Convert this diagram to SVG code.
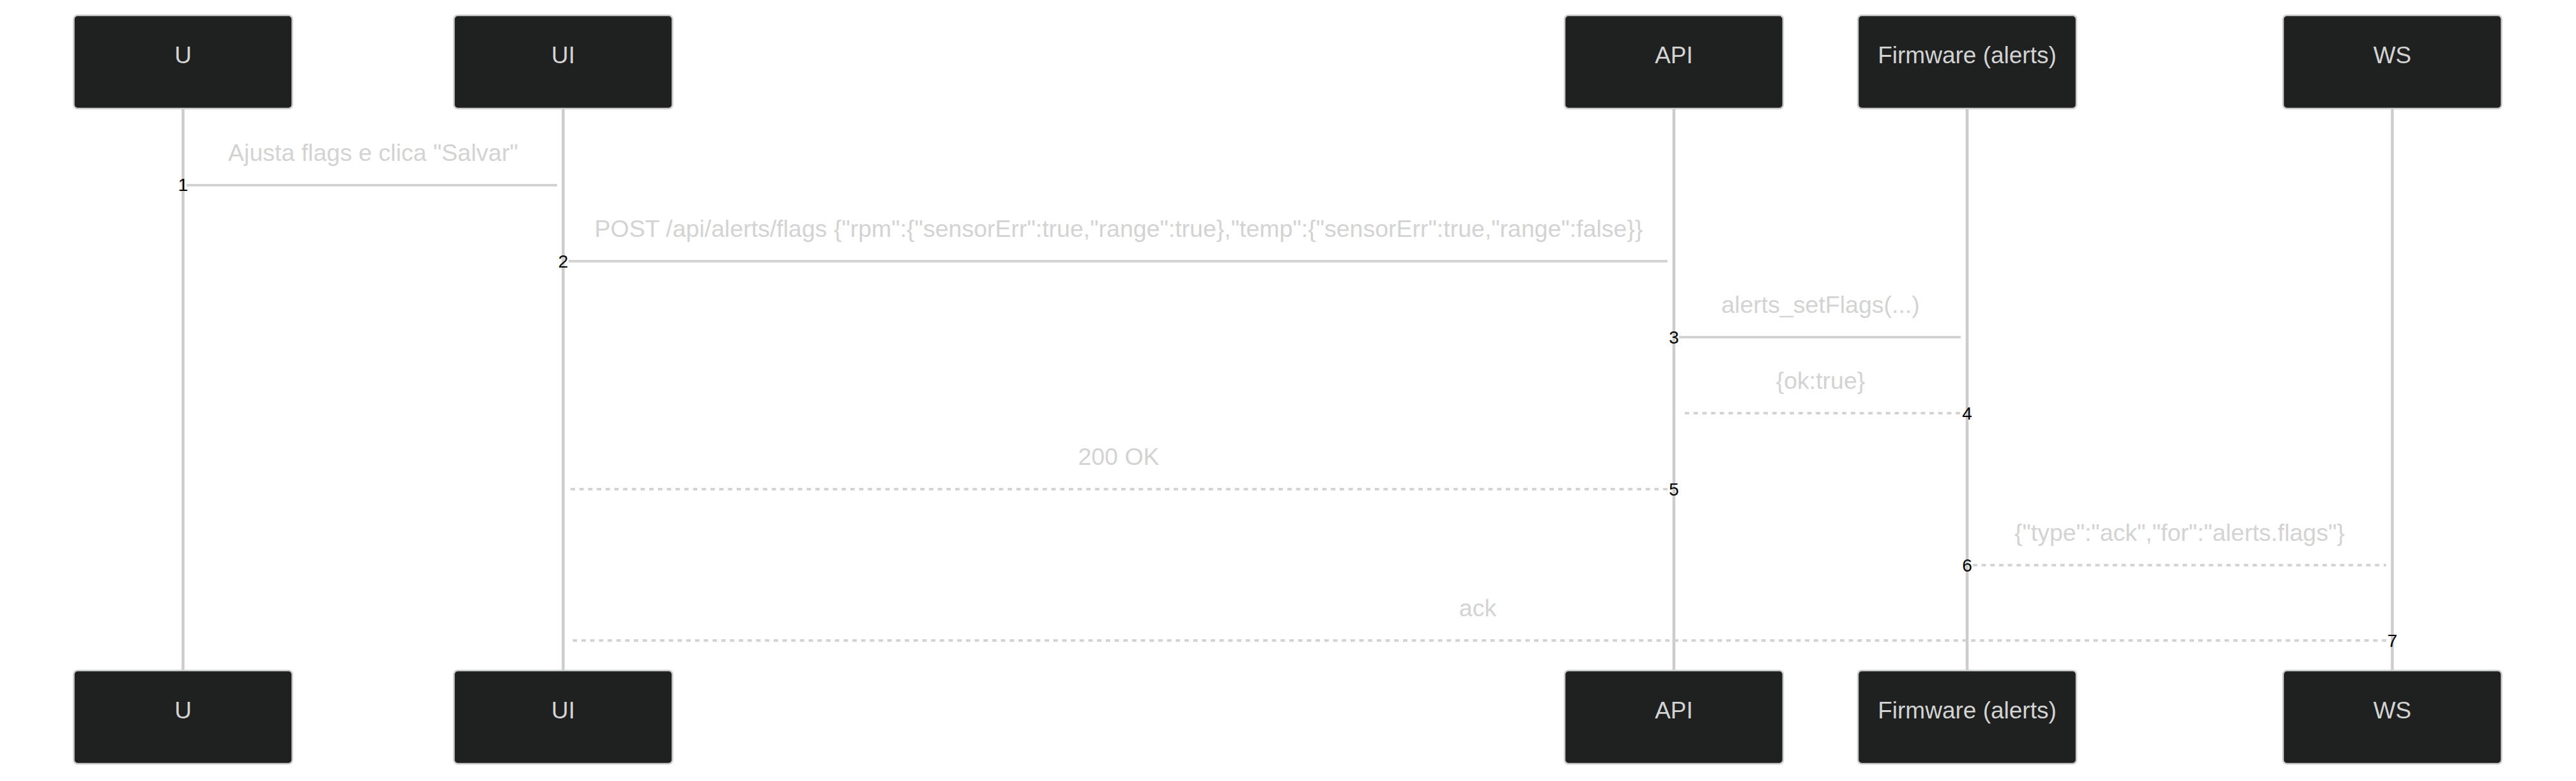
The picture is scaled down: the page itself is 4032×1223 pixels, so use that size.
<svg xmlns="http://www.w3.org/2000/svg" width="4032" height="1223" viewBox="0 0 4032 1223">
<style>
.actor{fill:#1f2020;stroke:#cccccc;stroke-width:2.5}
.atext{font-family:"Liberation Sans",Arial,sans-serif;font-size:37px;fill:#d3d3d3;text-anchor:middle}
.life{stroke:#cccccc;stroke-width:4.5}
.msg{stroke:#d3d3d3;stroke-width:4;fill:none}
.dot{stroke-dasharray:6.84 6.84}
.mtext{font-family:"Liberation Sans",Arial,sans-serif;font-size:37.5px;fill:#d3d3d3;text-anchor:middle}
.num{font-family:"Liberation Sans",Arial,sans-serif;font-size:28px;fill:#000000;text-anchor:middle}
</style>
<rect x="0" y="0" width="4032" height="1223" fill="#ffffff"/>
<g id="lifelines">
<line class="life" x1="286.5" y1="170" x2="286.5" y2="1050"/>
<line class="life" x1="881.5" y1="170" x2="881.5" y2="1050"/>
<line class="life" x1="2620" y1="170" x2="2620" y2="1050"/>
<line class="life" x1="3079" y1="170" x2="3079" y2="1050"/>
<line class="life" x1="3744.5" y1="170" x2="3744.5" y2="1050"/>
</g>
<g id="actor-U">
<rect class="actor" x="115.5" y="24" width="342" height="146" rx="6"/>
<text class="atext" x="286.5" y="99">U</text>
<rect class="actor" x="115.5" y="1050" width="342" height="146" rx="6"/>
<text class="atext" x="286.5" y="1125">U</text>
</g>
<g id="actor-UI">
<rect class="actor" x="710.5" y="24" width="342" height="146" rx="6"/>
<text class="atext" x="881.5" y="99">UI</text>
<rect class="actor" x="710.5" y="1050" width="342" height="146" rx="6"/>
<text class="atext" x="881.5" y="1125">UI</text>
</g>
<g id="actor-API">
<rect class="actor" x="2449" y="24" width="342" height="146" rx="6"/>
<text class="atext" x="2620" y="99">API</text>
<rect class="actor" x="2449" y="1050" width="342" height="146" rx="6"/>
<text class="atext" x="2620" y="1125">API</text>
</g>
<g id="actor-FW">
<rect class="actor" x="2908" y="24" width="342" height="146" rx="6"/>
<text class="atext" x="3079" y="99">Firmware (alerts)</text>
<rect class="actor" x="2908" y="1050" width="342" height="146" rx="6"/>
<text class="atext" x="3079" y="1125">Firmware (alerts)</text>
</g>
<g id="actor-WS">
<rect class="actor" x="3573.5" y="24" width="342" height="146" rx="6"/>
<text class="atext" x="3744.5" y="99">WS</text>
<rect class="actor" x="3573.5" y="1050" width="342" height="146" rx="6"/>
<text class="atext" x="3744.5" y="1125">WS</text>
</g>
<g id="messages">
<text class="mtext" x="584" y="252">Ajusta flags e clica "Salvar"</text>
<line class="msg" x1="292" y1="290" x2="872" y2="290"/>
<text class="num" x="286.5" y="299">1</text>
<text class="mtext" x="1751" y="371">POST /api/alerts/flags {"rpm":{"sensorErr":true,"range":true},"temp":{"sensorErr":true,"range":false}}</text>
<line class="msg" x1="890" y1="409" x2="2610" y2="409"/>
<text class="num" x="881.5" y="418.5">2</text>
<text class="mtext" x="2849.5" y="490">alerts_setFlags(...)</text>
<line class="msg" x1="2628" y1="528" x2="3069" y2="528"/>
<text class="num" x="2620" y="537.5">3</text>
<text class="mtext" x="2849.5" y="609">{ok:true}</text>
<line class="msg dot" x1="3068" y1="647" x2="2630" y2="647"/>
<text class="num" x="3079" y="656.5">4</text>
<text class="mtext" x="1751" y="728">200 OK</text>
<line class="msg dot" x1="2610" y1="766" x2="890" y2="766"/>
<text class="num" x="2620" y="775.5">5</text>
<text class="mtext" x="3411.5" y="847">{"type":"ack","for":"alerts.flags"}</text>
<line class="msg dot" x1="3088" y1="885" x2="3735" y2="885"/>
<text class="num" x="3079" y="894.5">6</text>
<text class="mtext" x="2313" y="965">ack</text>
<line class="msg dot" x1="3735" y1="1003" x2="890" y2="1003"/>
<text class="num" x="3744.5" y="1012.5">7</text>
</g>
</svg>
